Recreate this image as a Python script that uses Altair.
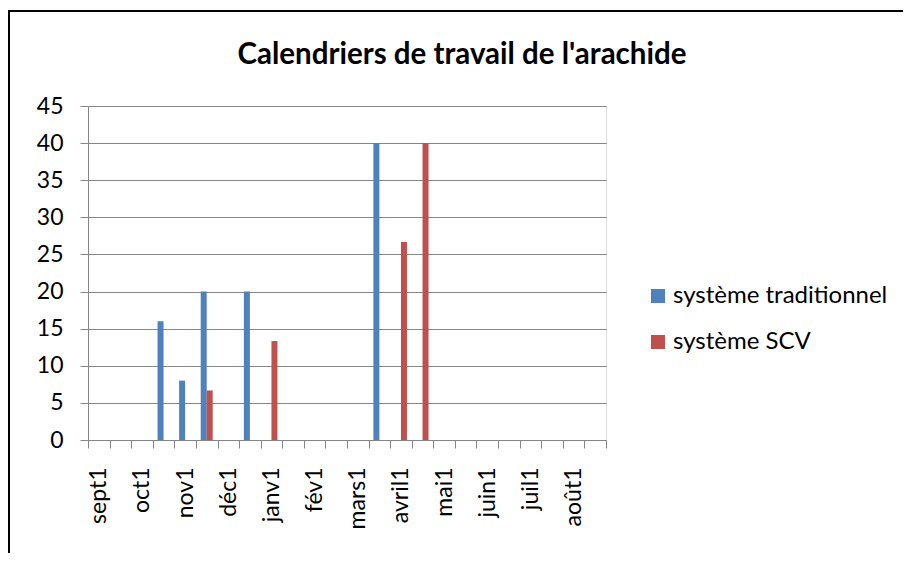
import altair as alt
import pandas as pd

periods = ["sept1", "sept2", "oct1", "oct2", "nov1", "nov2", "déc1", "déc2",
           "janv1", "janv2", "fév1", "fév2", "mars1", "mars2", "avril1", "avril2",
           "mai1", "mai2", "juin1", "juin2", "juil1", "juil2", "août1", "août2"]
traditionnel = [0, 0, 0, 16, 8, 20, 0, 20, 0, 0, 0, 0, 0, 40, 0, 0, 0, 0, 0, 0, 0, 0, 0, 0]
scv = [0, 0, 0, 0, 0, 6.67, 0, 0, 13.33, 0, 0, 0, 0, 0, 26.67, 40, 0, 0, 0, 0, 0, 0, 0, 0]
series = ["système traditionnel", "système SCV"]
colors = ["#4F81BD", "#C0504D"]
y_ticks = list(range(0, 50, 5))

rows = []
for p, a, b in zip(periods, traditionnel, scv):
    rows.append({"periode": p, "serie": series[0], "valeur": a})
    rows.append({"periode": p, "serie": series[1], "valeur": b})
df = pd.DataFrame(rows)

FONT = "Lato"
GRID = "#868686"

bars = alt.Chart(df).mark_bar().encode(
    x=alt.X("periode:N", sort=periods,
            scale=alt.Scale(domain=periods, paddingInner=0, paddingOuter=0),
            axis=alt.Axis(title=None, grid=False, tickBand="extent", tickSize=8,
                          tickColor=GRID, domainColor=GRID, labelAngle=270,
                          labelAlign="right", labelBaseline="middle",
                          labelFont=FONT, labelFontSize=23, labelColor="black",
                          labelPadding=19, labelOverlap=False,
                          labelExpr="slice(datum.label, -1) == '2' ? '' : datum.label")),
    xOffset=alt.XOffset("serie:N", sort=series,
                        scale=alt.Scale(domain=series, paddingInner=0, paddingOuter=0.8)),
    y=alt.Y("valeur:Q",
            scale=alt.Scale(domain=[0, 45], nice=False),
            axis=alt.Axis(title=None, values=y_ticks, grid=True, gridColor=GRID,
                          tickColor=GRID, domainColor=GRID, tickSize=8,
                          labelFont=FONT, labelFontSize=23, labelColor="black",
                          labelPadding=17)),
    color=alt.Color("serie:N", sort=series,
                    scale=alt.Scale(domain=series, range=colors),
                    legend=alt.Legend(title=None, orient="none", legendX=558, legendY=178,
                                      symbolType="square", symbolSize=196,
                                      symbolStrokeWidth=0, labelFont=FONT,
                                      labelFontSize=24, labelColor="black",
                                      labelLimit=0, rowPadding=22, labelOffset=3)),
)

border = alt.Chart(alt.Data(values=[{}])).mark_rect(
    fill=None, stroke="black", strokeWidth=2, clip=False
).encode(x=alt.value(-79), x2=alt.value(830), y=alt.value(-95), y2=alt.value(470))

chart = alt.layer(bars, border).properties(
    width=518, height=334,
    padding={"left": 80, "top": 98, "right": 297, "bottom": 113},
    autosize=alt.AutoSizeParams(type="none"),
    title=alt.TitleParams("Calendriers de travail de l'arachide", font=FONT,
                          fontSize=29.5, fontWeight="bold", color="black",
                          anchor="middle", frame="group", dx=115, offset=-60),
).configure_view(stroke=None).configure(background="white")

chart.save("out.html", embed_options={"renderer": "svg", "actions": False})
